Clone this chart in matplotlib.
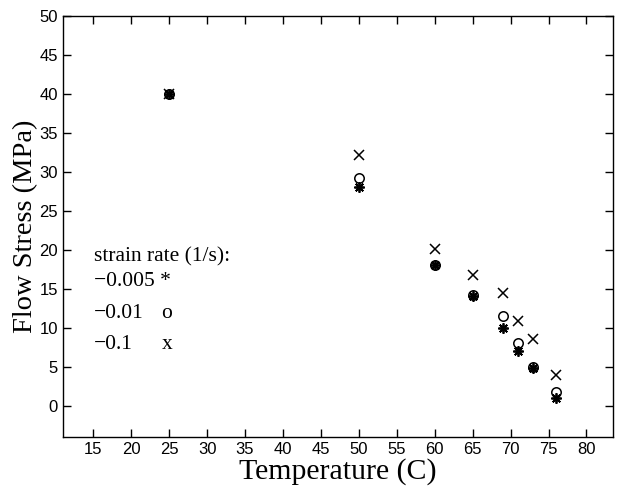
import numpy as np
from matplotlib import pyplot as plt

temp = [25, 50, 60, 65, 69, 71, 73, 76]
stress_005 = [40, 28.1, 18, 14.1, 10, 7, 4.8, 1]
stress_01 = [40, 29.2, 18, 14.2, 11.5, 8, 5, 1.8]
stress_1 = [40, 32.2, 20.1, 16.7, 14.4, 10.9, 8.5, 4]

xticks = np.arange(15, 81, 5)
yticks = np.arange(0, 51, 5)

serif = 'Liberation Serif'
sans = 'Liberation Sans'

fig = plt.figure(figsize=(6.23, 4.92), dpi=100)
ax = fig.add_axes([0.101, 0.112, 0.883, 0.856])

ax.plot(temp, stress_005, linestyle='none', marker=(8, 2, 0), ms=7.5, mec='k', mew=1.3)
ax.plot(temp, stress_01, linestyle='none', marker='o', ms=6.8, mfc='none', mec='k', mew=1.1)
ax.plot(temp, stress_1, linestyle='none', marker='x', ms=7, mec='k', mew=1.1)

ax.set_xlim(11, 83.5)
ax.set_ylim(-4, 50)
ax.set_xticks(xticks)
ax.set_yticks(yticks)
ax.tick_params(direction='in', top=True, right=True, length=6, width=1, labelsize=12)
for lab in ax.get_xticklabels() + ax.get_yticklabels():
    lab.set_fontfamily(sans)
for s in ax.spines.values():
    s.set_linewidth(1.0)

ax.set_xlabel('Temperature (C)', fontsize=21.5, family=serif, labelpad=1)
ax.set_ylabel('Flow Stress (MPa)', fontsize=20.5, family=serif, labelpad=1)

ax.text(15.1, 19.1, 'strain rate (1/s):', fontsize=15.5, family=serif, va='center')
ax.text(15.1, 15.9, '\u22120.005 *', fontsize=15.5, family=serif, va='center')
ax.text(15.1, 11.8, '\u22120.01', fontsize=15.5, family=serif, va='center')
ax.text(15.1, 7.8, '\u22120.1', fontsize=15.5, family=serif, va='center')
ax.text(24.0, 11.8, 'o', fontsize=15.5, family=serif, va='center')
ax.text(24.0, 7.8, 'x', fontsize=15.5, family=serif, va='center')

fig.savefig('out.png', dpi=100)
